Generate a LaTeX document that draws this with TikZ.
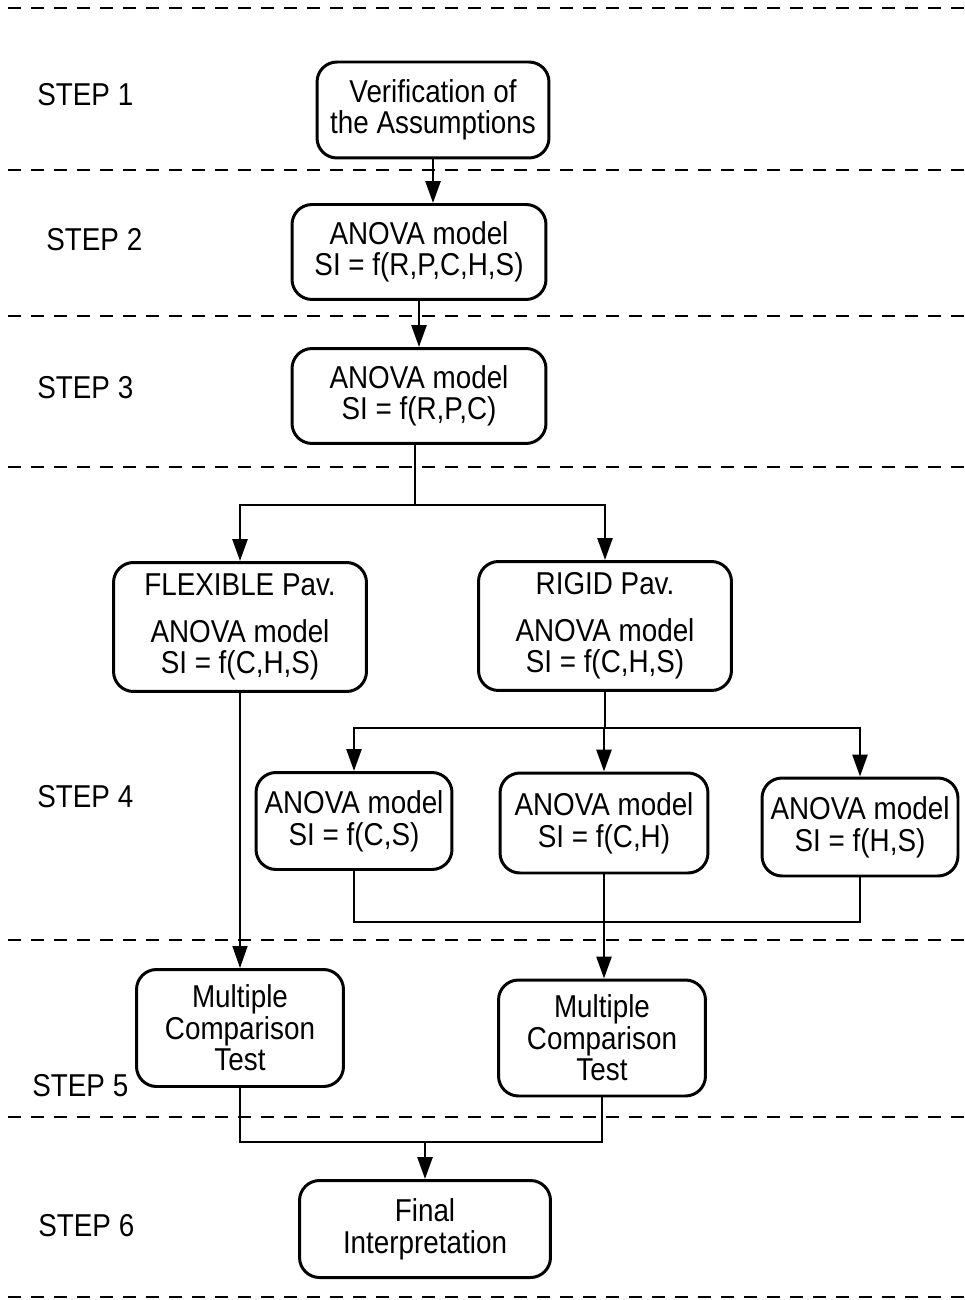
\documentclass[tikz,border=0pt]{standalone}
\usepackage{fontspec}
\setmainfont{Liberation Sans}[FakeStretch=0.88]
\usetikzlibrary{arrows.meta}

\begin{document}
\begin{tikzpicture}[x=0.02cm, y=-0.02cm,
    every node/.style={font=\fontsize{18}{18}\selectfont},
    blk/.style={draw, line width=1.7pt, rounded corners=0.4cm, align=center, inner sep=0pt},
    conn/.style={line width=1.5pt},
    thinconn/.style={line width=0.8pt},
    arr/.style={-{Triangle[length=0.44cm,width=0.3cm]}},
    sepline/.style={line width=1.1pt, dash pattern=on 0.26cm off 0.2cm},
    steplbl/.style={anchor=west, inner sep=0pt}]
  \useasboundingbox (0,0) rectangle (964,1300);

  % step separators
  \foreach \y in {8,170,316,467,940,1117,1297}
    \draw[sepline] (8,\y) -- (964,\y);

  % step labels
  \foreach \n/\x/\y in {1/37/95, 2/46/240, 3/37/388, 4/37/797, 5/32/1086, 6/38/1226}
    \node[steplbl] (step\n) at (\x,\y) {STEP \n};

  % boxes
  \node[blk, minimum width=4.64cm, minimum height=1.92cm] (verif) at (433,110)
    {Verification of\\the Assumptions};
  \node[blk, minimum width=5.08cm, minimum height=1.9cm] (full) at (419,252)
    {ANOVA model\\SI = f(R,P,C,H,S)};
  \node[blk, minimum width=5.08cm, minimum height=1.9cm] (rpc) at (419,396)
    {ANOVA model\\SI = f(R,P,C)};
  \node[blk, minimum width=5.06cm, minimum height=2.58cm] (flex) at (240,627)
    {FLEXIBLE Pav.\\[0.3cm]ANOVA model\\SI = f(C,H,S)};
  \node[blk, minimum width=5.06cm, minimum height=2.58cm] (rigid) at (605,626)
    {RIGID Pav.\\[0.3cm]ANOVA model\\SI = f(C,H,S)};
  \node[blk, minimum width=3.92cm, minimum height=1.94cm] (cs) at (354,821)
    {ANOVA model\\SI = f(C,S)};
  \node[blk, minimum width=4.16cm, minimum height=2cm] (ch) at (604,823)
    {ANOVA model\\SI = f(C,H)};
  \node[blk, minimum width=3.92cm, minimum height=1.96cm] (hs) at (860,827)
    {ANOVA model\\SI = f(H,S)};
  \node[blk, minimum width=4.14cm, minimum height=2.34cm] (mctflex) at (240,1028)
    {Multiple\\Comparison\\Test};
  \node[blk, minimum width=4.14cm, minimum height=2.32cm] (mctrigid) at (602,1038)
    {Multiple\\Comparison\\Test};
  \node[blk, minimum width=5.02cm, minimum height=1.94cm] (final) at (425,1229)
    {Final\\Interpretation};

  % junction points
  \coordinate (split1) at (415,505);
  \coordinate (split2) at (604,728);
  \coordinate (join1) at (350,922);
  \coordinate (join2) at (425,1142);

  % connectors
  \draw[conn, arr] (verif.south) -- (verif.south |- full.north);
  \draw[conn, arr] (full) -- (rpc);
  \draw[thinconn] (rpc.south -| split1) -- (split1);
  \draw[conn, arr] (split1) -| (flex.north);
  \draw[conn, arr] (split1) -| (rigid.north);
  \draw[conn] (rigid.south) -- (rigid.south |- split2);
  \draw[conn, arr] (split2) -| (cs.north);
  \draw[conn, arr] (split2) -| (hs.north);
  \draw[conn, arr] (split2) -- (split2 |- ch.north);
  \draw[thinconn, arr] (flex.south) -- (mctflex.north);
  \draw[conn] (cs.south) -- (cs.south |- join1) -| (hs.south);
  \draw[conn, arr] (ch.south) -- (ch.south |- mctrigid.north);
  \draw[conn] (mctflex.south) -- (mctflex.south |- join2) -| (mctrigid.south);
  \draw[conn, arr] (join2) -- (final.north);
\end{tikzpicture}
\end{document}
